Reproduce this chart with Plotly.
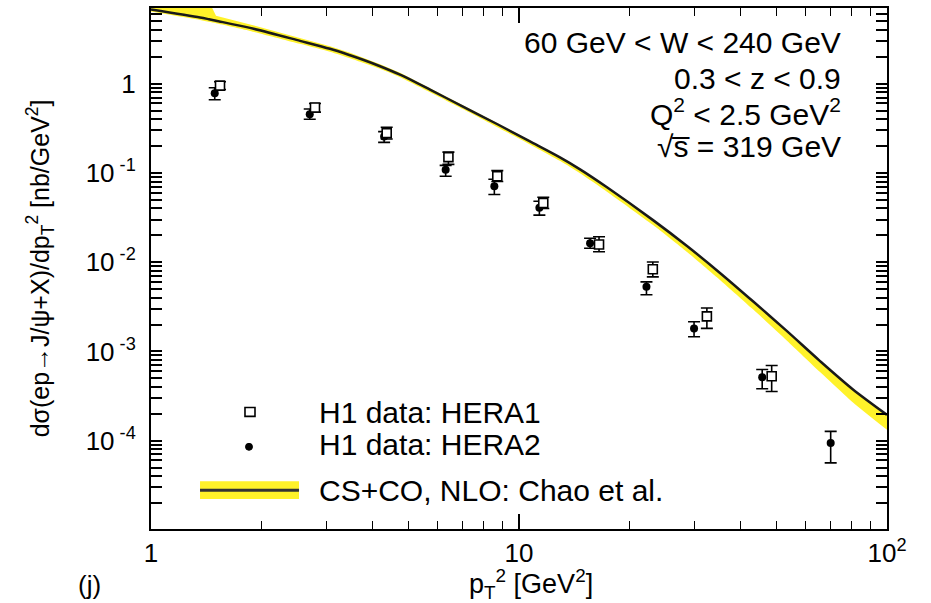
import plotly.graph_objects as go

# ---------------- data ----------------
# H1 data, HERA1 (open squares)
h1_x = [1.54, 2.79, 4.37, 6.43, 8.73, 11.64, 16.5, 23.1, 32.4, 48.6]
h1_y = [0.95, 0.54, 0.279, 0.1505, 0.0916, 0.0461, 0.0158, 0.00833, 0.00247, 5.27e-4]
h1_hi = [1.05, 0.60, 0.325, 0.171, 0.106, 0.0534, 0.0193, 0.01005, 0.00306, 6.95e-4]
h1_lo = [0.86, 0.48, 0.24, 0.1247, 0.080, 0.040, 0.0131, 0.00684, 0.00181, 3.56e-4]

# H1 data, HERA2 (filled circles)
h2_x = [1.49, 2.70, 4.30, 6.32, 8.57, 11.36, 15.6, 22.2, 29.9, 45.8, 70.3]
h2_y = [0.78, 0.454, 0.256, 0.1088, 0.0709, 0.0406, 0.0163, 0.00529, 0.00181, 5.14e-4, 9.42e-5]
h2_hi = [0.90, 0.52, 0.29, 0.1216, 0.0848, 0.0482, 0.0185, 0.00601, 0.00215, 6.26e-4, 1.27e-4]
h2_lo = [0.66, 0.40, 0.22, 0.0916, 0.0573, 0.0337, 0.0143, 0.00431, 0.00146, 3.81e-4, 5.64e-5]

# CS+CO NLO prediction (Chao et al.): central line and uncertainty band
th_x = [1.0, 1.359, 1.437, 1.502, 1.858, 2.541, 3.064, 3.474, 3.768, 4.192, 4.750,
        5.731, 7.043, 8.713, 10.71, 12.92, 14.65, 17.34, 23.13, 28.61, 35.17, 43.23,
        53.49, 65.77, 80.83, 100]
th_y = [6.785, 5.524, 5.274, 5.076, 4.217, 3.019, 2.459, 2.080, 1.853, 1.568, 1.260,
        0.857, 0.5537, 0.3532, 0.2253, 0.1493, 0.1097, 0.06908, 0.02958, 0.01517,
        0.007575, 0.003642, 0.001685, 7.793e-4, 3.747e-4, 1.945e-4]
th_hi = [12.90, 9.231, 8.374, 5.772, 4.614, 3.261, 2.622, 2.218, 1.951, 1.651, 1.326,
         0.8907, 0.5755, 0.3624, 0.2312, 0.1512, 0.1111, 0.06997, 0.02996, 0.01537,
         0.007673, 0.003689, 0.001707, 7.894e-4, 3.795e-4, 1.970e-4]
th_lo = [6.445, 5.180, 4.946, 4.760, 3.904, 2.795, 2.277, 1.926, 1.716, 1.470, 1.182,
         0.8037, 0.5193, 0.3270, 0.2086, 0.1365, 0.09899, 0.06154, 0.02601, 0.01300,
         0.006328, 0.002965, 0.001320, 5.874e-4, 2.683e-4, 1.323e-4]

x_tickvals = [1, 10, 100]
x_ticktext = ["1", "10", "10<sup>2</sup>"]
y_major_vals = [1e-5, 1e-4, 1e-3, 1e-2, 1e-1, 1]
y_major_text = ["10<sup> -5</sup>", "10<sup> -4</sup>", "10<sup> -3</sup>",
                "10<sup> -2</sup>", "10<sup> -1</sup>", "1"]

legend_labels = ["H1 data: HERA1", "H1 data: HERA2", "CS+CO, NLO: Chao et al."]
info_lines = ["60 GeV &lt; W &lt; 240 GeV", "0.3 &lt; z &lt; 0.9",
              "Q<sup>2</sup> &lt; 2.5 GeV<sup>2</sup>",
              "√s\u0305 = 319 GeV"]

YELLOW = "#fff22a"
FONT = "Liberation Sans, Arial, Helvetica, sans-serif"

# y ticks: labelled decades plus unlabelled 2..9 subdivisions
y_tickvals, y_ticktext = [], []
for v, t in zip(y_major_vals, y_major_text):
    y_tickvals.append(v)
    y_ticktext.append(t)
    for m in range(2, 10):
        y_tickvals.append(v * m)
        y_ticktext.append("")

fig = go.Figure()

# band
fig.add_trace(go.Scatter(x=th_x, y=th_hi, mode="lines",
                         line=dict(width=0, color=YELLOW),
                         hoverinfo="skip", showlegend=False))
fig.add_trace(go.Scatter(x=th_x, y=th_lo, mode="lines",
                         line=dict(width=0, color=YELLOW, shape="spline", smoothing=0.6),
                         fill="tonexty", fillcolor=YELLOW, showlegend=False,
                         name=legend_labels[2]))
# central line
fig.add_trace(go.Scatter(x=th_x, y=th_y, mode="lines",
                         line=dict(width=2.5, color="#1a1a1a", shape="spline", smoothing=0.8),
                         showlegend=False, name=legend_labels[2]))

# HERA2 filled circles
fig.add_trace(go.Scatter(
    x=h2_x, y=h2_y, mode="markers", name=legend_labels[1], showlegend=False,
    marker=dict(symbol="circle", size=8, color="black"),
    error_y=dict(type="data", symmetric=False,
                 array=[h - y for h, y in zip(h2_hi, h2_y)],
                 arrayminus=[y - l for y, l in zip(h2_y, h2_lo)],
                 color="black", thickness=1.6, width=6)))

# HERA1 open squares
fig.add_trace(go.Scatter(
    x=h1_x, y=h1_y, mode="markers", name=legend_labels[0], showlegend=False,
    marker=dict(symbol="square", size=9, color="white", line=dict(color="black", width=1.6)),
    error_y=dict(type="data", symmetric=False,
                 array=[h - y for h, y in zip(h1_hi, h1_y)],
                 arrayminus=[y - l for y, l in zip(h1_y, h1_lo)],
                 color="black", thickness=1.6, width=6)))

axis_common = dict(type="log", showgrid=False, zeroline=False, showline=True,
                   linecolor="black", linewidth=2, mirror="allticks",
                   ticks="inside", tickcolor="black", tickwidth=1.5)

fig.update_xaxes(**axis_common, range=[0, 2], tickvals=x_tickvals, ticktext=x_ticktext,
                 ticklen=15,
                 tickfont=dict(size=26, color="black", family=FONT),
                 ticklabelstandoff=0,
                 minor=dict(dtick="D1", ticks="inside",
                            ticklen=8, tickwidth=1.3, tickcolor="black", showgrid=False))
fig.update_yaxes(**axis_common, range=[-4.99, 0.848], tickmode="array",
                 tickvals=y_tickvals, ticktext=y_ticktext, ticklen=11,
                 tickfont=dict(size=26, color="black", family=FONT),
                 ticklabelstandoff=8)

# manual legend
fig.add_shape(type="rect", xref="paper", yref="paper", x0=0.0666, x1=0.2011,
              y0=0.0574, y1=0.0918, fillcolor=YELLOW, line=dict(width=0))
fig.add_shape(type="line", xref="paper", yref="paper", x0=0.0666, x1=0.2011,
              y0=0.0746, y1=0.0746, line=dict(color="#333333", width=3))
fig.add_shape(type="rect", xref="paper", yref="paper", x0=0.1277, x1=0.1413,
              y0=0.2161, y1=0.2333, fillcolor="white", line=dict(color="black", width=1.6))
fig.add_shape(type="circle", xref="paper", yref="paper", x0=0.1284, x1=0.1379,
              y0=0.1511, y1=0.1644, fillcolor="black", line=dict(color="black", width=1))

for lab, yy in zip(legend_labels, [0.2237, 0.1625, 0.0746]):
    fig.add_annotation(text=lab, xref="paper", yref="paper", x=0.2255, y=yy,
                       xanchor="left", yanchor="middle", showarrow=False,
                       font=dict(size=30, color="black", family=FONT))

for txt, yy in zip(info_lines, [0.933, 0.864, 0.801, 0.734]):
    fig.add_annotation(text=txt, xref="paper", yref="paper", x=0.940, y=yy,
                       xanchor="right", yanchor="middle", showarrow=False,
                       font=dict(size=30, color="black", family=FONT))

# axis titles and panel label
fig.add_annotation(text="dσ(ep→J/ψ+X)/dp<sub>T</sub><sup>2</sup> [nb/GeV<sup>2</sup>]",
                   xref="paper", yref="paper", x=-0.151, y=0.5, textangle=-90,
                   xanchor="center", yanchor="middle", showarrow=False,
                   font=dict(size=25, color="black", family=FONT))
fig.add_annotation(text="p<sub>T</sub><sup>2</sup> [GeV<sup>2</sup>]",
                   xref="paper", yref="paper", x=0.603, y=-0.106,
                   xanchor="right", yanchor="middle", showarrow=False,
                   font=dict(size=27, color="black", family=FONT))
fig.add_annotation(text="(j)", xref="paper", yref="paper", x=-0.0829, y=-0.107,
                   xanchor="center", yanchor="middle", showarrow=False,
                   font=dict(size=26, color="black", family=FONT))

fig.update_layout(width=931, height=603, margin=dict(l=151, r=44, t=6, b=74),
                  paper_bgcolor="white", plot_bgcolor="white",
                  font=dict(family=FONT, color="black"))

fig.write_html("out.html", config={"displayModeBar": False},
               post_script="document.body.style.margin='0';document.body.style.padding='0';")
